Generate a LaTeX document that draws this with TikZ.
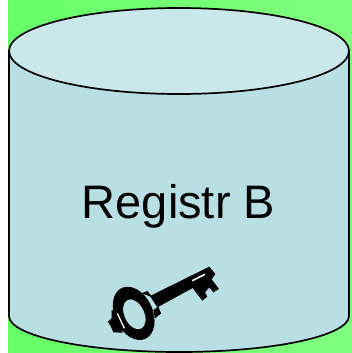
\documentclass[tikz,border=0pt]{standalone}
\usepackage{fontspec}
\setmainfont{Liberation Sans}
\usepackage{tikz}
\definecolor{panelL}{RGB}{102, 255, 102}
\definecolor{panelR}{RGB}{128, 255, 128}
\definecolor{drumBody}{RGB}{184, 223, 227}
\definecolor{drumTop}{RGB}{202, 231, 234}
\tikzset{
  drumline/.style={draw=black, line width=1.7pt},
  keyshape/.style={fill=black, draw=none}
}

\begin{document}
\begin{tikzpicture}[x=1pt, y=-1pt]
  \useasboundingbox (0,0) rectangle (352,353);
  % background
  \shade[left color=panelL, right color=panelR] (8,0) rectangle (352,353);
  % drum
  \draw[drumline, fill=drumBody] (9,51) -- (9,316) arc[start angle=180, end angle=360, x radius=170, y radius=-36] -- (349,51) -- cycle;
  \draw[drumline, fill=drumTop] (179,51) ellipse[x radius=170, y radius=43];
  \node[font=\fontsize{47}{50}\selectfont, text=black, inner sep=0pt] (label) at (178.5,206) {Registr B};
  % key
  \begin{scope}[shift={(70,260)}, scale=1/3]
    \fill[keyshape, even odd rule] (191,160) ellipse[x radius=84, y radius=57, rotate=-65]
      (193,163) ellipse[x radius=48, y radius=30, rotate=-65];
    \fill[keyshape] (240,108) -- (418,20) -- (436,42) -- (425,58) -- (447,87) -- (430,97) -- (418,82)
      -- (405,97) -- (412,110) -- (397,122) -- (368,84) -- (262,142) -- cycle;
    \fill[keyshape] (215,100) -- (232,93) -- (248,112) -- cycle;
    \fill[keyshape] (250,150) -- (265,140) -- (273,160) -- (255,175) -- cycle;
    \fill[keyshape] (125,150) -- (150,165) -- (158,218) -- (130,217) -- (123,200) -- (114,185) -- (125,175) -- cycle;
    \draw[white, line width=1.3pt] (142,160) -- (163,205);
    \draw[white, line width=1.5pt] (367,62) -- (405,43);
  \end{scope}
\end{tikzpicture}
\end{document}
